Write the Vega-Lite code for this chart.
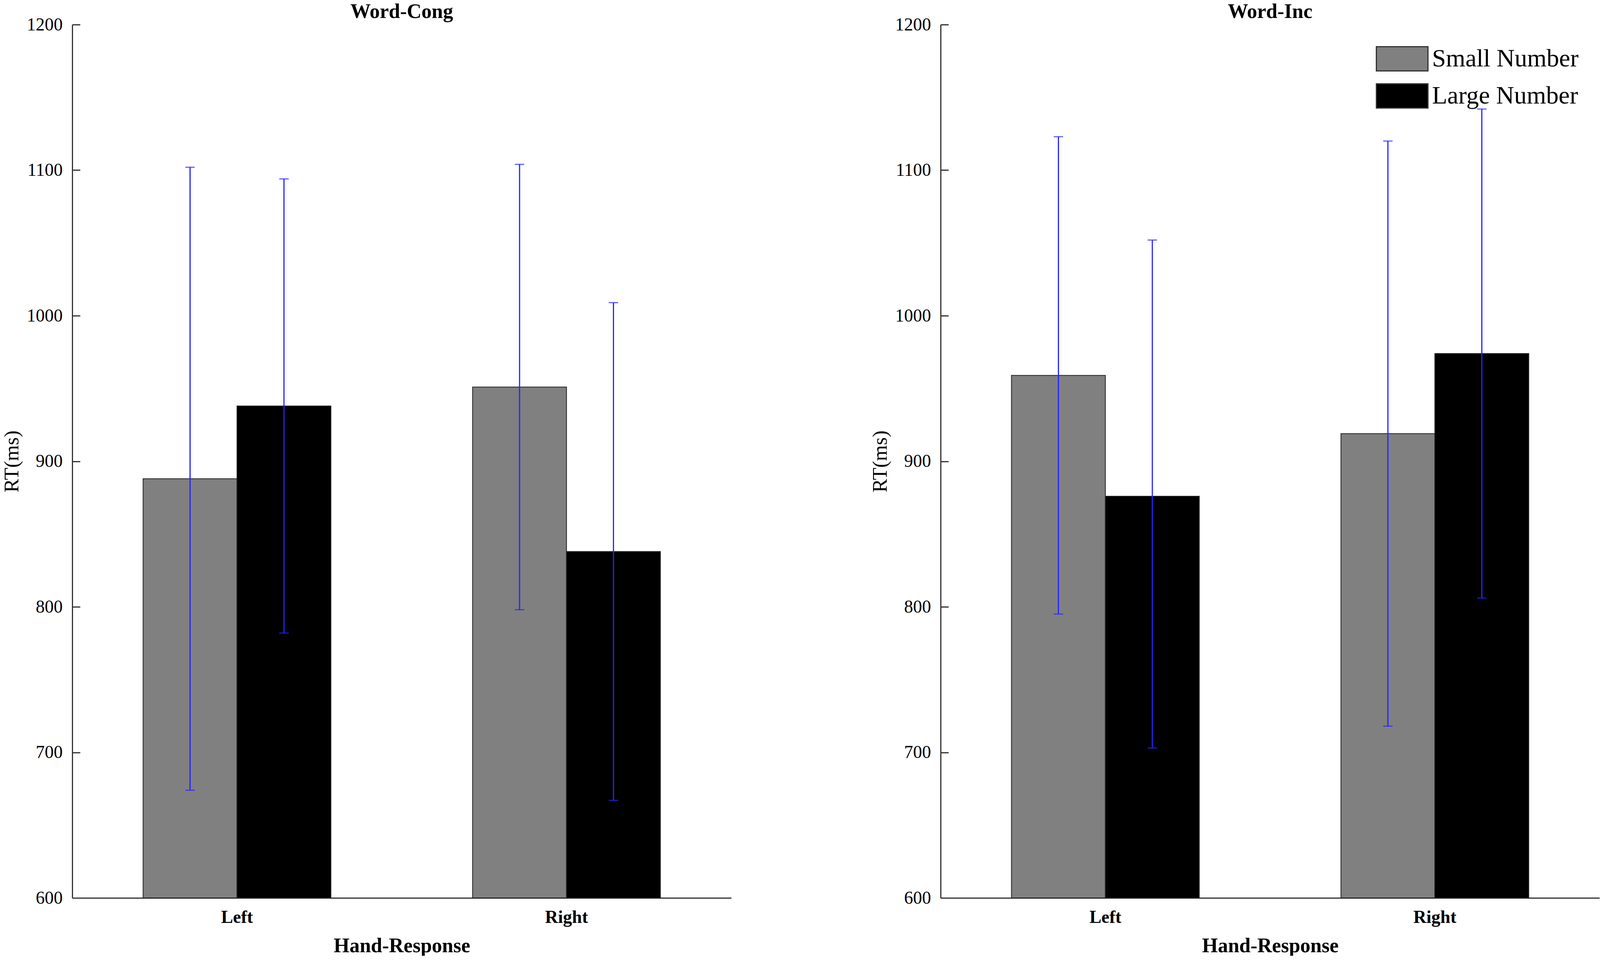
{
  "$schema": "https://vega.github.io/schema/vega-lite/v6.json",
  "background": "white",
  "padding": {"left": 4, "top": 4, "right": 0, "bottom": 0},
  "spacing": 355,
  "config": {
    "view": {"stroke": null},
    "font": "Liberation Serif",
    "axis": {
      "domainColor": "#333333",
      "domainWidth": 3,
      "tickColor": "#333333",
      "tickWidth": 3,
      "labelColor": "black",
      "titleColor": "black",
      "labelFont": "Liberation Serif",
      "titleFont": "Liberation Serif",
      "grid": false
    }
  },
  "data": {
    "values": [
      {"panel": "Word-Cong", "hand": "Left", "number": "Small Number", "rt": 888, "lo": 674, "hi": 1102},
      {"panel": "Word-Cong", "hand": "Left", "number": "Large Number", "rt": 938, "lo": 782, "hi": 1094},
      {"panel": "Word-Cong", "hand": "Right", "number": "Small Number", "rt": 951, "lo": 798, "hi": 1104},
      {"panel": "Word-Cong", "hand": "Right", "number": "Large Number", "rt": 838, "lo": 667, "hi": 1009},
      {"panel": "Word-Inc", "hand": "Left", "number": "Small Number", "rt": 959, "lo": 795, "hi": 1123},
      {"panel": "Word-Inc", "hand": "Left", "number": "Large Number", "rt": 876, "lo": 703, "hi": 1052},
      {"panel": "Word-Inc", "hand": "Right", "number": "Small Number", "rt": 919, "lo": 718, "hi": 1120},
      {"panel": "Word-Inc", "hand": "Right", "number": "Large Number", "rt": 974, "lo": 806, "hi": 1142}
    ]
  },
  "resolve": {"legend": {"fill": "independent"}},
  "hconcat": [
    {
      "width": 1687,
      "height": 2235,
      "title": {"text": "Word-Cong", "fontSize": 52, "fontWeight": "bold", "anchor": "middle", "frame": "group", "offset": -58, "baseline": "alphabetic", "color": "black"},
      "transform": [{"filter": "datum.panel === 'Word-Cong'"}],
      "encoding": {
        "x": {
          "field": "hand", "type": "nominal", "sort": ["Left", "Right"],
          "scale": {"paddingInner": 0.43, "paddingOuter": 0.215},
          "axis": {"title": "Hand-Response", "labelAngle": 0, "ticks": false, "labelFontSize": 46, "labelFontWeight": "bold", "labelPadding": 27, "titleFontSize": 52, "titleFontWeight": "bold", "titlePadding": 25}
        },
        "xOffset": {"field": "number", "type": "nominal", "sort": ["Small Number", "Large Number"]}
      },
      "layer": [
        {
          "mark": {"type": "bar", "stroke": "#222222", "strokeWidth": 2},
          "encoding": {
            "y": {
              "field": "rt", "type": "quantitative", "title": "RT(ms)",
              "scale": {"domain": [600, 1200], "nice": false, "zero": false},
              "axis": {"values": [600, 700, 800, 900, 1000, 1100, 1200], "format": "d", "tickSize": -20, "labelFontSize": 46, "labelPadding": 45, "titleFontSize": 52, "titleFontWeight": "normal", "titlePadding": 11}
            },
            "y2": {"datum": 600},
            "fill": {"field": "number", "type": "nominal", "scale": {"domain": ["Small Number", "Large Number"], "range": ["#808080", "#000000"]}, "legend": null}
          }
        },
        {
          "mark": {"type": "rule", "color": "#2424ff", "strokeWidth": 3},
          "encoding": {"y": {"field": "lo", "type": "quantitative", "title": "RT(ms)"}, "y2": {"field": "hi"}}
        },
        {
          "mark": {"type": "tick", "color": "#2424ff", "size": 24, "thickness": 3},
          "encoding": {"y": {"field": "lo", "type": "quantitative", "title": "RT(ms)"}}
        },
        {
          "mark": {"type": "tick", "color": "#2424ff", "size": 24, "thickness": 3},
          "encoding": {"y": {"field": "hi", "type": "quantitative", "title": "RT(ms)"}}
        }
      ]
    },
    {
      "width": 1687,
      "height": 2235,
      "title": {"text": "Word-Inc", "fontSize": 52, "fontWeight": "bold", "anchor": "middle", "frame": "group", "offset": -58, "baseline": "alphabetic", "color": "black"},
      "transform": [{"filter": "datum.panel === 'Word-Inc'"}],
      "encoding": {
        "x": {
          "field": "hand", "type": "nominal", "sort": ["Left", "Right"],
          "scale": {"paddingInner": 0.43, "paddingOuter": 0.215},
          "axis": {"title": "Hand-Response", "labelAngle": 0, "ticks": false, "labelFontSize": 46, "labelFontWeight": "bold", "labelPadding": 27, "titleFontSize": 52, "titleFontWeight": "bold", "titlePadding": 25}
        },
        "xOffset": {"field": "number", "type": "nominal", "sort": ["Small Number", "Large Number"]}
      },
      "layer": [
        {
          "mark": {"type": "bar", "stroke": "#222222", "strokeWidth": 2},
          "encoding": {
            "y": {
              "field": "rt", "type": "quantitative", "title": "RT(ms)",
              "scale": {"domain": [600, 1200], "nice": false, "zero": false},
              "axis": {"values": [600, 700, 800, 900, 1000, 1100, 1200], "format": "d", "tickSize": -20, "labelFontSize": 46, "labelPadding": 45, "titleFontSize": 52, "titleFontWeight": "normal", "titlePadding": 11}
            },
            "y2": {"datum": 600},
            "fill": {
              "field": "number", "type": "nominal",
              "scale": {"domain": ["Small Number", "Large Number"], "range": ["#808080", "#000000"]},
              "legend": {
                "orient": "none", "legendX": 1114, "legendY": 55, "title": null, "padding": 0,
                "symbolType": "M-1,-1L3.26,-1L3.26,1L-1,1Z", "symbolSize": 3844,
                "symbolStrokeColor": "#333333", "symbolStrokeWidth": 3,
                "labelFont": "Liberation Serif", "labelFontSize": 64, "labelColor": "black",
                "labelOffset": 79, "rowPadding": 20, "labelLimit": 1000
              }
            }
          }
        },
        {
          "mark": {"type": "rule", "color": "#2424ff", "strokeWidth": 3},
          "encoding": {"y": {"field": "lo", "type": "quantitative", "title": "RT(ms)"}, "y2": {"field": "hi"}}
        },
        {
          "mark": {"type": "tick", "color": "#2424ff", "size": 24, "thickness": 3},
          "encoding": {"y": {"field": "lo", "type": "quantitative", "title": "RT(ms)"}}
        },
        {
          "mark": {"type": "tick", "color": "#2424ff", "size": 24, "thickness": 3},
          "encoding": {"y": {"field": "hi", "type": "quantitative", "title": "RT(ms)"}}
        }
      ]
    }
  ]
}
